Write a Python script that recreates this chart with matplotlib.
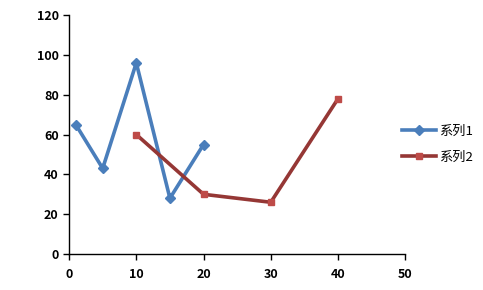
"""
Excel-style scatter chart with two line series.
"""

import matplotlib.pyplot as plt

plt.rcParams["font.family"] = ["Noto Sans CJK SC", "DejaVu Sans"]

series1_x = [1, 5, 10, 15, 20]
series1_y = [65, 43, 96, 28, 55]
series2_x = [10, 20, 30, 40]
series2_y = [60, 30, 26, 78]
series_names = ["系列1", "系列2"]

x_ticks = [0, 10, 20, 30, 40, 50]
y_ticks = [0, 20, 40, 60, 80, 100, 120]


def main():
    fig = plt.figure(figsize=(4.83, 2.90), dpi=100)
    ax = fig.add_axes([0.143, 0.124, 0.696, 0.824])

    ax.plot(series1_x, series1_y, color="#4A7EBB", linewidth=2.6,
            marker="D", markersize=5.5, label=series_names[0])
    ax.plot(series2_x, series2_y, color="#953735", linewidth=2.6,
            marker="s", markersize=4.5, markerfacecolor="#BE4B48",
            markeredgecolor="#BE4B48", label=series_names[1])

    ax.set_xlim(0, 50)
    ax.set_ylim(0, 120)
    ax.set_xticks(x_ticks)
    ax.set_yticks(y_ticks)

    for side in ("top", "right"):
        ax.spines[side].set_visible(False)
    for side in ("left", "bottom"):
        ax.spines[side].set_linewidth(1.0)
        ax.spines[side].set_color("black")

    ax.tick_params(direction="out", length=4, width=1.0, labelsize=9)
    for lbl in ax.get_xticklabels() + ax.get_yticklabels():
        lbl.set_fontweight("bold")
    ax.tick_params(axis="x", pad=6)

    ax.legend(loc="center left", bbox_to_anchor=(0.975, 0.46), frameon=False,
              borderaxespad=0, fontsize=9.5, handlelength=2.6,
              handletextpad=0.2, labelspacing=1.0)

    fig.savefig("out.png", dpi=100)
    plt.close(fig)


if __name__ == "__main__":
    main()
